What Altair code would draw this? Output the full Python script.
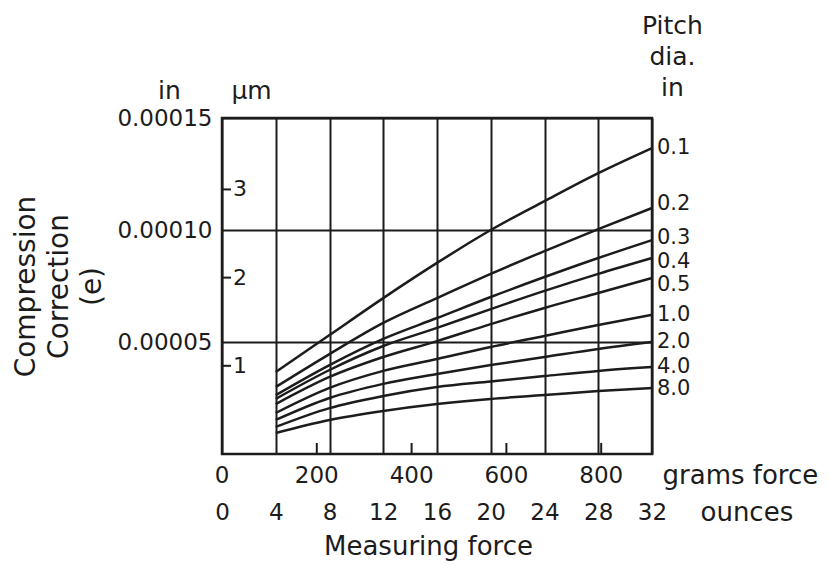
import altair as alt
import pandas as pd

# ---- data ----
ounces = [4, 8, 12, 16, 20, 24, 28, 32]
pitch_labels = ["0.1", "0.2", "0.3", "0.4", "0.5", "1.0", "2.0", "4.0", "8.0"]
# compression correction (e), in units of 0.00001 in, at each ounce grid line
e_01 = [3.66, 5.31, 6.96, 8.53, 10.00, 11.29, 12.54, 13.66]
e_02 = [2.99, 4.46, 5.85, 6.96, 8.04, 9.06, 10.04, 10.98]
e_03 = [2.63, 3.97, 5.14, 6.07, 7.01, 7.90, 8.75, 9.55]
e_04 = [2.46, 3.75, 4.82, 5.63, 6.47, 7.28, 8.04, 8.75]
e_05 = [2.23, 3.44, 4.33, 5.04, 5.80, 6.52, 7.19, 7.86]
e_10 = [1.83, 2.95, 3.71, 4.24, 4.78, 5.27, 5.76, 6.21]
e_20 = [1.52, 2.50, 3.13, 3.57, 3.97, 4.33, 4.69, 5.00]
e_40 = [1.21, 2.05, 2.59, 2.99, 3.24, 3.48, 3.71, 3.88]
e_80 = [0.94, 1.52, 1.92, 2.23, 2.46, 2.63, 2.81, 2.95]
series = [e_01, e_02, e_03, e_04, e_05, e_10, e_20, e_40, e_80]

y_ticks_in = [0.00005, 0.00010, 0.00015]
x_ticks_oz = [0, 4, 8, 12, 16, 20, 24, 28, 32]
grams_ticks = [0, 200, 400, 600, 800]
um_ticks = [1, 2, 3]

rows = []
for lab, vals in zip(pitch_labels, series):
    for oz, v in zip(ounces, vals):
        rows.append({"pitch": lab, "oz": oz, "e": v * 1e-5})
df = pd.DataFrame(rows)

FONT = "DejaVu Sans"
INK = "#1c1c1c"
W, H = 430, 336

x_scale = alt.Scale(domain=[0, 32], nice=False, zero=False)
y_scale = alt.Scale(domain=[0, 0.00015], nice=False)

x_axis = alt.Axis(
    values=x_ticks_oz, grid=True, gridColor=INK, gridWidth=2, gridOpacity=1,
    ticks=False, domain=False, labelFlush=False, labelOverlap=False,
    labelFontSize=23, labelFont=FONT, labelColor=INK, labelPadding=47,
    title="Measuring force", titleFont=FONT, titleFontSize=26, titleFontWeight="normal",
    titleColor=INK, titleX=206, titleY=92, titleBaseline="middle", titleAlign="center")
y_axis = alt.Axis(
    values=y_ticks_in, format=".5f", grid=True, gridColor=INK, gridWidth=2, gridOpacity=1,
    ticks=False, domain=False, labelOverlap=False,
    labelFontSize=23, labelFont=FONT, labelColor=INK, labelPadding=10,
    title=["Compression", "Correction", "(e)"], titleFont=FONT, titleFontSize=28,
    titleFontWeight="normal", titleColor=INK, titleAngle=270, titleX=-210, titleY=168,
    titleBaseline="top", titleAlign="center", titleLineHeight=33)

X = alt.X("oz:Q", scale=x_scale, axis=x_axis)
Y = alt.Y("e:Q", scale=y_scale, axis=y_axis)

lines = alt.Chart(df).mark_line(color=INK, strokeWidth=2.5, interpolate="monotone").encode(
    x=X, y=Y, detail="pitch:N")

# end-of-line labels, nudged a little where the reference spreads them apart
nudges = {-4: ["0.2"], -2: ["0.3"], 0: ["0.1", "1.0", "2.0", "4.0"], 4: ["0.4"], 7: ["0.5"], 1: ["8.0"]}
end_layers = []
for dy, labs in nudges.items():
    end_layers.append(
        alt.Chart(df).transform_filter("datum.oz == 32")
        .transform_filter(alt.FieldOneOfPredicate(field="pitch", oneOf=labs))
        .mark_text(align="left", baseline="middle", dx=5, dy=dy, fontSize=21, font=FONT, color=INK)
        .encode(x=X, y=Y, text="pitch:N"))

um_df = pd.DataFrame({"um": um_ticks})
um_base = alt.Chart(um_df).transform_calculate(e="datum.um * 0.00003937")
um_rules = um_base.mark_rule(color=INK, strokeWidth=2).encode(
    x=alt.value(0), x2=alt.value(9), y=Y)
um_text = um_base.mark_text(align="left", baseline="middle", fontSize=22, font=FONT, color=INK).encode(
    x=alt.value(11), y=Y, text="um:Q")

g_df = pd.DataFrame({"g": grams_ticks})
g_base = alt.Chart(g_df).transform_calculate(oz="datum.g / 28.3495")
g_rules = g_base.transform_filter("datum.g > 0").mark_rule(color=INK, strokeWidth=2).encode(
    x=X, y=alt.value(H), y2=alt.value(H - 11))
g_text = g_base.mark_text(baseline="middle", fontSize=23, font=FONT, color=INK).encode(
    x=X, y=alt.value(357.5), text="g:Q")

one = pd.DataFrame({"k": [0]})


def label(txt, x, y, size, align="left", baseline="middle", line_height=None):
    kw = dict(align=align, baseline=baseline, fontSize=size, font=FONT, color=INK, lineBreak="\n")
    if line_height:
        kw["lineHeight"] = line_height
    return alt.Chart(one).mark_text(**kw).encode(
        x=alt.value(x), y=alt.value(y), text=alt.value(txt))


anns = [
    label("grams force", 440.5, 357.5, 26),
    label("ounces", 478.5, 394.5, 26),
    label("Pitch\ndia.\nin", 450.5, -104, 25, align="center", baseline="top", line_height=31),
    label("in", -52.5, -27, 25, align="center"),
    label("µm", 29.5, -27, 25, align="center"),
]

chart = alt.layer(lines, *end_layers, um_rules, um_text, g_rules, g_text, *anns).properties(
    width=W, height=H,
    padding={"left": 214, "top": 110, "right": 168, "bottom": 109},
    autosize=alt.AutoSizeParams(type="none"),
    background="white",
).configure_view(stroke=INK, strokeWidth=2.5)

chart.save("out.html", embed_options={"renderer": "svg", "actions": False})
